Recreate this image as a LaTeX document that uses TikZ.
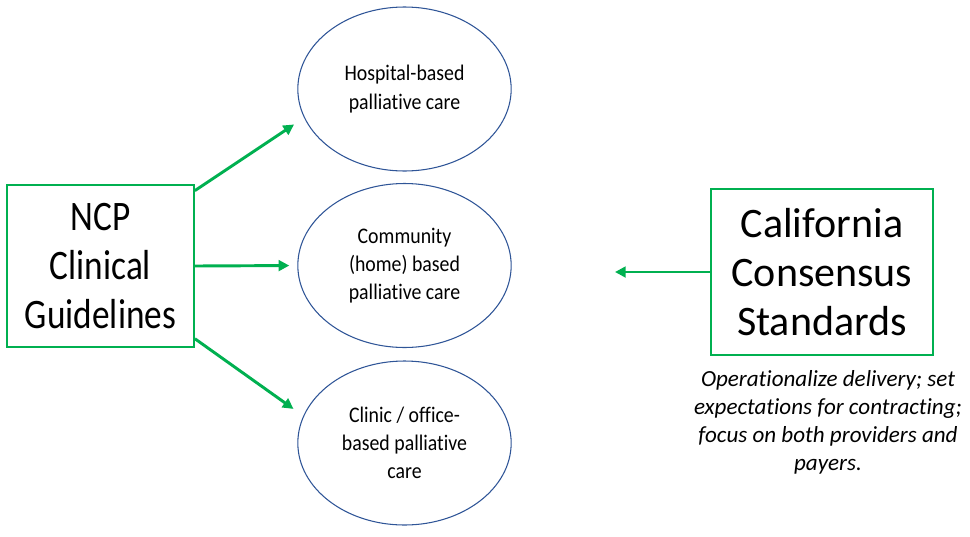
\documentclass[tikz,border=0pt]{standalone}
\usepackage{fontspec}
\setmainfont{Carlito}[Ligatures=NoCommon]
\newfontfamily\narrowfont{Carlito}[FakeStretch=0.84,Ligatures=NoCommon]
\newfontfamily\ovalfont{Carlito}[FakeStretch=0.89,Ligatures=NoCommon]
\definecolor{officegreen}{HTML}{00B050}
\definecolor{ovalblue}{HTML}{2F5597}
\usetikzlibrary{shapes.geometric,arrows.meta,positioning}

\begin{document}
\begin{tikzpicture}[x=0.75pt,y=-0.75pt,
  guide/.style={draw=officegreen,line width=1.6pt,minimum width=140pt,minimum height=121.5pt,
    align=center,inner sep=0pt,font=\fontsize{31.5}{37}\selectfont},
  setting/.style={ellipse,draw=ovalblue,line width=0.8pt,minimum width=160pt,minimum height=123pt,
    align=center,inner sep=0pt,font=\ovalfont\fontsize{16.7}{21.2}\selectfont},
  link/.style={officegreen,line width=2.2pt,-{Triangle[length=8pt,width=8pt]}}]
  \useasboundingbox (0,0) rectangle (970,536);
  % guideline boxes
  \node[guide,font=\narrowfont\fontsize{31.5}{37}\selectfont] (ncp) at (100.5,266) {NCP\\Clinical\\Guidelines};
  \node[guide,minimum width=166.5pt,minimum height=124.5pt] (ccs) at (822,272) {California\\Consensus\\Standards};
  \node[font=\itshape\fontsize{17.3}{21}\selectfont,align=center,anchor=north,inner sep=0pt] (note) at (828,370)
    {Operationalize delivery; set\\expectations for contracting;\\focus on both providers and\\payers.};
  % care settings
  \node[setting] (hosp) at (404.5,89) {Hospital-based\\palliative care};
  \node[setting] (comm) at (404.5,265.5) {Community\\(home) based\\palliative care};
  \node[setting] (clin) at (404.5,443) {Clinic / office-\\based palliative\\care};
  \coordinate (ccsend) at (615,272);
  % arrows
  \draw[link,shorten >=9pt] ([yshift=-5pt]ncp.north east) -- (hosp.196);
  \draw[link,shorten >=6pt] (ncp.east) -- (comm.west);
  \draw[link,shorten >=9pt] ([yshift=7pt]ncp.south east) -- (clin.165);
  \draw[link] (ccs.west) -- (ccsend);
\end{tikzpicture}
\end{document}
